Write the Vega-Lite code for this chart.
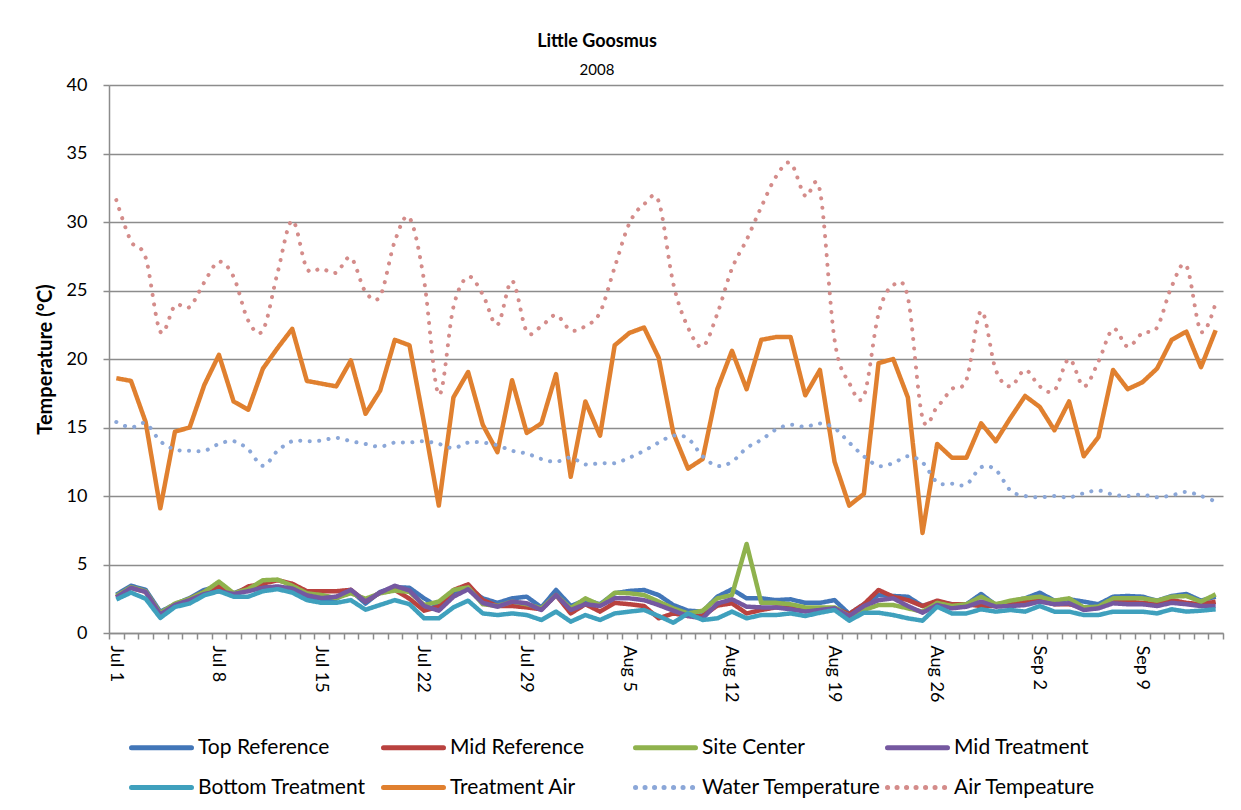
{
  "$schema": "https://vega.github.io/schema/vega-lite/v6.json",
  "width": 1114,
  "height": 548,
  "autosize": {"type": "none"},
  "padding": {"left": 109, "top": 85, "right": 18, "bottom": 177},
  "background": "white",
  "title": {
    "text": "Little Goosmus",
    "subtitle": "2008",
    "anchor": "middle",
    "dx": -69,
    "offset": -2,
    "font": "Lato",
    "fontSize": 18,
    "fontWeight": "bold",
    "color": "#000000",
    "subtitleFont": "Lato",
    "subtitleFontSize": 15,
    "subtitleColor": "#000000",
    "subtitlePadding": 12
  },
  "data": {
    "values": [
      {"date": "2008-07-01", "Top Reference": 2.8, "Mid Reference": 2.6, "Site Center": 2.7, "Mid Treatment": 2.6, "Bottom Treatment": 2.45, "Treatment Air": 18.6, "Water Temperature": 15.4, "Air Tempeature": 31.6},
      {"date": "2008-07-02", "Top Reference": 3.45, "Mid Reference": 3.3, "Site Center": 3.35, "Mid Treatment": 3.3, "Bottom Treatment": 2.95, "Treatment Air": 18.4, "Water Temperature": 15.0, "Air Tempeature": 28.6},
      {"date": "2008-07-03", "Top Reference": 3.15, "Mid Reference": 3.0, "Site Center": 3.05, "Mid Treatment": 3.0, "Bottom Treatment": 2.5, "Treatment Air": 15.4, "Water Temperature": 15.3, "Air Tempeature": 27.4},
      {"date": "2008-07-04", "Top Reference": 1.55, "Mid Reference": 1.4, "Site Center": 1.45, "Mid Treatment": 1.35, "Bottom Treatment": 1.1, "Treatment Air": 9.1, "Water Temperature": 14.0, "Air Tempeature": 22.0},
      {"date": "2008-07-05", "Top Reference": 2.1, "Mid Reference": 2.0, "Site Center": 2.15, "Mid Treatment": 2.05, "Bottom Treatment": 1.9, "Treatment Air": 14.7, "Water Temperature": 13.4, "Air Tempeature": 23.9},
      {"date": "2008-07-06", "Top Reference": 2.55, "Mid Reference": 2.5, "Site Center": 2.5, "Mid Treatment": 2.4, "Bottom Treatment": 2.15, "Treatment Air": 15.0, "Water Temperature": 13.3, "Air Tempeature": 23.8},
      {"date": "2008-07-07", "Top Reference": 3.15, "Mid Reference": 3.0, "Site Center": 3.0, "Mid Treatment": 2.85, "Bottom Treatment": 2.75, "Treatment Air": 18.1, "Water Temperature": 13.3, "Air Tempeature": 25.6},
      {"date": "2008-07-08", "Top Reference": 3.4, "Mid Reference": 3.4, "Site Center": 3.75, "Mid Treatment": 3.05, "Bottom Treatment": 3.05, "Treatment Air": 20.3, "Water Temperature": 13.8, "Air Tempeature": 27.1},
      {"date": "2008-07-09", "Top Reference": 2.9, "Mid Reference": 2.8, "Site Center": 2.9, "Mid Treatment": 2.85, "Bottom Treatment": 2.65, "Treatment Air": 16.9, "Water Temperature": 14.0, "Air Tempeature": 26.0},
      {"date": "2008-07-10", "Top Reference": 3.3, "Mid Reference": 3.4, "Site Center": 3.2, "Mid Treatment": 3.05, "Bottom Treatment": 2.65, "Treatment Air": 16.3, "Water Temperature": 13.4, "Air Tempeature": 22.8},
      {"date": "2008-07-11", "Top Reference": 3.35, "Mid Reference": 3.6, "Site Center": 3.85, "Mid Treatment": 3.3, "Bottom Treatment": 3.05, "Treatment Air": 19.3, "Water Temperature": 12.2, "Air Tempeature": 22.1},
      {"date": "2008-07-12", "Top Reference": 3.3, "Mid Reference": 3.85, "Site Center": 3.9, "Mid Treatment": 3.4, "Bottom Treatment": 3.2, "Treatment Air": 20.8, "Water Temperature": 13.3, "Air Tempeature": 26.3},
      {"date": "2008-07-13", "Top Reference": 3.1, "Mid Reference": 3.6, "Site Center": 3.45, "Mid Treatment": 3.25, "Bottom Treatment": 2.95, "Treatment Air": 22.2, "Water Temperature": 14.0, "Air Tempeature": 30.1},
      {"date": "2008-07-14", "Top Reference": 2.6, "Mid Reference": 3.05, "Site Center": 2.9, "Mid Treatment": 2.75, "Bottom Treatment": 2.4, "Treatment Air": 18.4, "Water Temperature": 14.0, "Air Tempeature": 26.6},
      {"date": "2008-07-15", "Top Reference": 2.5, "Mid Reference": 3.05, "Site Center": 2.77, "Mid Treatment": 2.55, "Bottom Treatment": 2.2, "Treatment Air": 18.2, "Water Temperature": 14.05, "Air Tempeature": 26.6},
      {"date": "2008-07-16", "Top Reference": 2.5, "Mid Reference": 3.05, "Site Center": 2.55, "Mid Treatment": 2.65, "Bottom Treatment": 2.2, "Treatment Air": 18.0, "Water Temperature": 14.25, "Air Tempeature": 26.3},
      {"date": "2008-07-17", "Top Reference": 3.1, "Mid Reference": 3.15, "Site Center": 2.9, "Mid Treatment": 3.15, "Bottom Treatment": 2.4, "Treatment Air": 19.9, "Water Temperature": 14.0, "Air Tempeature": 27.4},
      {"date": "2008-07-18", "Top Reference": 2.15, "Mid Reference": 2.3, "Site Center": 2.5, "Mid Treatment": 2.3, "Bottom Treatment": 1.7, "Treatment Air": 16.0, "Water Temperature": 13.8, "Air Tempeature": 24.9},
      {"date": "2008-07-19", "Top Reference": 3.0, "Mid Reference": 2.95, "Site Center": 2.9, "Mid Treatment": 2.95, "Bottom Treatment": 2.05, "Treatment Air": 17.7, "Water Temperature": 13.6, "Air Tempeature": 24.6},
      {"date": "2008-07-20", "Top Reference": 3.35, "Mid Reference": 3.15, "Site Center": 3.1, "Mid Treatment": 3.45, "Bottom Treatment": 2.4, "Treatment Air": 21.4, "Water Temperature": 13.9, "Air Tempeature": 28.6},
      {"date": "2008-07-21", "Top Reference": 3.3, "Mid Reference": 2.5, "Site Center": 3.0, "Mid Treatment": 3.1, "Bottom Treatment": 2.1, "Treatment Air": 21.0, "Water Temperature": 13.9, "Air Tempeature": 30.3},
      {"date": "2008-07-22", "Top Reference": 2.53, "Mid Reference": 1.63, "Site Center": 2.04, "Mid Treatment": 1.97, "Bottom Treatment": 1.07, "Treatment Air": 15.3, "Water Temperature": 14.0, "Air Tempeature": 25.7},
      {"date": "2008-07-23", "Top Reference": 1.87, "Mid Reference": 1.92, "Site Center": 2.29, "Mid Treatment": 1.63, "Bottom Treatment": 1.07, "Treatment Air": 9.3, "Water Temperature": 13.8, "Air Tempeature": 17.4},
      {"date": "2008-07-24", "Top Reference": 3.0, "Mid Reference": 3.14, "Site Center": 3.14, "Mid Treatment": 2.65, "Bottom Treatment": 1.87, "Treatment Air": 17.2, "Water Temperature": 13.5, "Air Tempeature": 23.8},
      {"date": "2008-07-25", "Top Reference": 3.26, "Mid Reference": 3.55, "Site Center": 3.33, "Mid Treatment": 3.19, "Bottom Treatment": 2.36, "Treatment Air": 19.05, "Water Temperature": 13.9, "Air Tempeature": 26.0},
      {"date": "2008-07-26", "Top Reference": 2.53, "Mid Reference": 2.4, "Site Center": 2.1, "Mid Treatment": 2.2, "Bottom Treatment": 1.43, "Treatment Air": 15.2, "Water Temperature": 13.9, "Air Tempeature": 24.7},
      {"date": "2008-07-27", "Top Reference": 2.2, "Mid Reference": 1.97, "Site Center": 1.97, "Mid Treatment": 1.92, "Bottom Treatment": 1.31, "Treatment Air": 13.2, "Water Temperature": 13.7, "Air Tempeature": 22.5},
      {"date": "2008-07-28", "Top Reference": 2.53, "Mid Reference": 1.97, "Site Center": 2.29, "Mid Treatment": 2.29, "Bottom Treatment": 1.43, "Treatment Air": 18.45, "Water Temperature": 13.3, "Air Tempeature": 25.7},
      {"date": "2008-07-29", "Top Reference": 2.65, "Mid Reference": 1.87, "Site Center": 2.1, "Mid Treatment": 2.17, "Bottom Treatment": 1.31, "Treatment Air": 14.6, "Water Temperature": 13.1, "Air Tempeature": 22.0},
      {"date": "2008-07-30", "Top Reference": 1.87, "Mid Reference": 1.73, "Site Center": 1.8, "Mid Treatment": 1.68, "Bottom Treatment": 0.95, "Treatment Air": 15.3, "Water Temperature": 12.7, "Air Tempeature": 22.4},
      {"date": "2008-07-31", "Top Reference": 3.14, "Mid Reference": 2.77, "Site Center": 2.77, "Mid Treatment": 2.77, "Bottom Treatment": 1.56, "Treatment Air": 18.9, "Water Temperature": 12.5, "Air Tempeature": 23.2},
      {"date": "2008-08-01", "Top Reference": 1.97, "Mid Reference": 1.43, "Site Center": 1.8, "Mid Treatment": 1.68, "Bottom Treatment": 0.83, "Treatment Air": 11.4, "Water Temperature": 12.8, "Air Tempeature": 22.1},
      {"date": "2008-08-02", "Top Reference": 2.4, "Mid Reference": 2.1, "Site Center": 2.53, "Mid Treatment": 2.1, "Bottom Treatment": 1.31, "Treatment Air": 16.9, "Water Temperature": 12.3, "Air Tempeature": 22.4},
      {"date": "2008-08-03", "Top Reference": 2.1, "Mid Reference": 1.56, "Site Center": 2.04, "Mid Treatment": 1.97, "Bottom Treatment": 0.95, "Treatment Air": 14.4, "Water Temperature": 12.4, "Air Tempeature": 23.4},
      {"date": "2008-08-04", "Top Reference": 2.9, "Mid Reference": 2.2, "Site Center": 2.94, "Mid Treatment": 2.53, "Bottom Treatment": 1.43, "Treatment Air": 21.0, "Water Temperature": 12.4, "Air Tempeature": 26.7},
      {"date": "2008-08-05", "Top Reference": 3.07, "Mid Reference": 2.1, "Site Center": 2.9, "Mid Treatment": 2.53, "Bottom Treatment": 1.56, "Treatment Air": 21.9, "Water Temperature": 12.8, "Air Tempeature": 29.9},
      {"date": "2008-08-06", "Top Reference": 3.14, "Mid Reference": 1.97, "Site Center": 2.77, "Mid Treatment": 2.4, "Bottom Treatment": 1.68, "Treatment Air": 22.3, "Water Temperature": 13.3, "Air Tempeature": 31.3},
      {"date": "2008-08-07", "Top Reference": 2.77, "Mid Reference": 1.07, "Site Center": 2.29, "Mid Treatment": 2.04, "Bottom Treatment": 1.24, "Treatment Air": 20.1, "Water Temperature": 13.9, "Air Tempeature": 31.5},
      {"date": "2008-08-08", "Top Reference": 2.04, "Mid Reference": 1.43, "Site Center": 1.8, "Mid Treatment": 1.63, "Bottom Treatment": 0.75, "Treatment Air": 14.6, "Water Temperature": 14.4, "Air Tempeature": 25.5},
      {"date": "2008-08-09", "Top Reference": 1.63, "Mid Reference": 1.24, "Site Center": 1.43, "Mid Treatment": 1.24, "Bottom Treatment": 1.43, "Treatment Air": 12.0, "Water Temperature": 14.2, "Air Tempeature": 22.3},
      {"date": "2008-08-10", "Top Reference": 1.56, "Mid Reference": 1.24, "Site Center": 1.63, "Mid Treatment": 1.07, "Bottom Treatment": 0.95, "Treatment Air": 12.7, "Water Temperature": 12.9, "Air Tempeature": 20.9},
      {"date": "2008-08-11", "Top Reference": 2.65, "Mid Reference": 2.0, "Site Center": 2.53, "Mid Treatment": 2.15, "Bottom Treatment": 1.07, "Treatment Air": 17.8, "Water Temperature": 12.2, "Air Tempeature": 23.3},
      {"date": "2008-08-12", "Top Reference": 3.19, "Mid Reference": 2.17, "Site Center": 2.77, "Mid Treatment": 2.46, "Bottom Treatment": 1.56, "Treatment Air": 20.6, "Water Temperature": 12.5, "Air Tempeature": 26.6},
      {"date": "2008-08-13", "Top Reference": 2.53, "Mid Reference": 1.43, "Site Center": 6.5, "Mid Treatment": 1.92, "Bottom Treatment": 1.07, "Treatment Air": 17.8, "Water Temperature": 13.5, "Air Tempeature": 28.7},
      {"date": "2008-08-14", "Top Reference": 2.53, "Mid Reference": 1.68, "Site Center": 2.2, "Mid Treatment": 1.87, "Bottom Treatment": 1.31, "Treatment Air": 21.4, "Water Temperature": 14.1, "Air Tempeature": 31.1},
      {"date": "2008-08-15", "Top Reference": 2.4, "Mid Reference": 1.87, "Site Center": 2.2, "Mid Treatment": 1.87, "Bottom Treatment": 1.31, "Treatment Air": 21.6, "Water Temperature": 14.85, "Air Tempeature": 33.3},
      {"date": "2008-08-16", "Top Reference": 2.46, "Mid Reference": 1.87, "Site Center": 2.1, "Mid Treatment": 1.73, "Bottom Treatment": 1.43, "Treatment Air": 21.6, "Water Temperature": 15.2, "Air Tempeature": 34.3},
      {"date": "2008-08-17", "Top Reference": 2.2, "Mid Reference": 1.73, "Site Center": 1.87, "Mid Treatment": 1.56, "Bottom Treatment": 1.24, "Treatment Air": 17.35, "Water Temperature": 15.05, "Air Tempeature": 31.9},
      {"date": "2008-08-18", "Top Reference": 2.2, "Mid Reference": 1.8, "Site Center": 1.87, "Mid Treatment": 1.68, "Bottom Treatment": 1.48, "Treatment Air": 19.2, "Water Temperature": 15.3, "Air Tempeature": 32.3},
      {"date": "2008-08-19", "Top Reference": 2.4, "Mid Reference": 1.8, "Site Center": 1.87, "Mid Treatment": 1.8, "Bottom Treatment": 1.68, "Treatment Air": 12.5, "Water Temperature": 14.95, "Air Tempeature": 21.4},
      {"date": "2008-08-20", "Top Reference": 1.39, "Mid Reference": 1.39, "Site Center": 1.24, "Mid Treatment": 1.24, "Bottom Treatment": 0.9, "Treatment Air": 9.3, "Water Temperature": 13.9, "Air Tempeature": 18.25},
      {"date": "2008-08-21", "Top Reference": 2.1, "Mid Reference": 2.1, "Site Center": 1.68, "Mid Treatment": 1.97, "Bottom Treatment": 1.48, "Treatment Air": 10.15, "Water Temperature": 12.9, "Air Tempeature": 17.3},
      {"date": "2008-08-22", "Top Reference": 2.77, "Mid Reference": 3.14, "Site Center": 2.04, "Mid Treatment": 2.4, "Bottom Treatment": 1.48, "Treatment Air": 19.7, "Water Temperature": 12.2, "Air Tempeature": 23.3},
      {"date": "2008-08-23", "Top Reference": 2.7, "Mid Reference": 2.65, "Site Center": 2.04, "Mid Treatment": 2.53, "Bottom Treatment": 1.31, "Treatment Air": 20.0, "Water Temperature": 12.4, "Air Tempeature": 25.4},
      {"date": "2008-08-24", "Top Reference": 2.65, "Mid Reference": 2.4, "Site Center": 1.8, "Mid Treatment": 1.97, "Bottom Treatment": 1.07, "Treatment Air": 17.2, "Water Temperature": 12.9, "Air Tempeature": 24.5},
      {"date": "2008-08-25", "Top Reference": 1.97, "Mid Reference": 1.97, "Site Center": 1.56, "Mid Treatment": 1.48, "Bottom Treatment": 0.9, "Treatment Air": 7.3, "Water Temperature": 12.45, "Air Tempeature": 15.7},
      {"date": "2008-08-26", "Top Reference": 2.29, "Mid Reference": 2.36, "Site Center": 2.2, "Mid Treatment": 2.04, "Bottom Treatment": 1.92, "Treatment Air": 13.8, "Water Temperature": 11.0, "Air Tempeature": 16.5},
      {"date": "2008-08-27", "Top Reference": 2.1, "Mid Reference": 2.1, "Site Center": 1.97, "Mid Treatment": 1.8, "Bottom Treatment": 1.43, "Treatment Air": 12.8, "Water Temperature": 10.9, "Air Tempeature": 17.8},
      {"date": "2008-08-28", "Top Reference": 2.1, "Mid Reference": 2.1, "Site Center": 2.1, "Mid Treatment": 1.92, "Bottom Treatment": 1.43, "Treatment Air": 12.8, "Water Temperature": 10.85, "Air Tempeature": 18.5},
      {"date": "2008-08-29", "Top Reference": 2.85, "Mid Reference": 1.97, "Site Center": 2.65, "Mid Treatment": 2.29, "Bottom Treatment": 1.73, "Treatment Air": 15.3, "Water Temperature": 12.1, "Air Tempeature": 23.5},
      {"date": "2008-08-30", "Top Reference": 2.04, "Mid Reference": 1.97, "Site Center": 2.1, "Mid Treatment": 1.92, "Bottom Treatment": 1.56, "Treatment Air": 14.0, "Water Temperature": 11.9, "Air Tempeature": 19.2},
      {"date": "2008-08-31", "Top Reference": 2.29, "Mid Reference": 2.1, "Site Center": 2.36, "Mid Treatment": 1.97, "Bottom Treatment": 1.68, "Treatment Air": 15.7, "Water Temperature": 10.4, "Air Tempeature": 18.0},
      {"date": "2008-09-01", "Top Reference": 2.53, "Mid Reference": 2.29, "Site Center": 2.53, "Mid Treatment": 2.04, "Bottom Treatment": 1.56, "Treatment Air": 17.3, "Water Temperature": 10.0, "Air Tempeature": 19.2},
      {"date": "2008-09-02", "Top Reference": 2.94, "Mid Reference": 2.4, "Site Center": 2.65, "Mid Treatment": 2.29, "Bottom Treatment": 1.97, "Treatment Air": 16.5, "Water Temperature": 9.9, "Air Tempeature": 18.0},
      {"date": "2008-09-03", "Top Reference": 2.36, "Mid Reference": 2.1, "Site Center": 2.36, "Mid Treatment": 2.1, "Bottom Treatment": 1.56, "Treatment Air": 14.8, "Water Temperature": 10.0, "Air Tempeature": 17.7},
      {"date": "2008-09-04", "Top Reference": 2.46, "Mid Reference": 2.1, "Site Center": 2.53, "Mid Treatment": 2.17, "Bottom Treatment": 1.56, "Treatment Air": 16.9, "Water Temperature": 9.9, "Air Tempeature": 20.0},
      {"date": "2008-09-05", "Top Reference": 2.29, "Mid Reference": 1.87, "Site Center": 1.87, "Mid Treatment": 1.68, "Bottom Treatment": 1.31, "Treatment Air": 12.9, "Water Temperature": 10.2, "Air Tempeature": 18.0},
      {"date": "2008-09-06", "Top Reference": 2.1, "Mid Reference": 1.87, "Site Center": 1.92, "Mid Treatment": 1.8, "Bottom Treatment": 1.31, "Treatment Air": 14.3, "Water Temperature": 10.4, "Air Tempeature": 19.8},
      {"date": "2008-09-07", "Top Reference": 2.65, "Mid Reference": 2.29, "Site Center": 2.53, "Mid Treatment": 2.17, "Bottom Treatment": 1.56, "Treatment Air": 19.2, "Water Temperature": 10.1, "Air Tempeature": 22.2},
      {"date": "2008-09-08", "Top Reference": 2.7, "Mid Reference": 2.29, "Site Center": 2.53, "Mid Treatment": 2.1, "Bottom Treatment": 1.56, "Treatment Air": 17.8, "Water Temperature": 10.0, "Air Tempeature": 20.9},
      {"date": "2008-09-09", "Top Reference": 2.65, "Mid Reference": 2.2, "Site Center": 2.53, "Mid Treatment": 2.1, "Bottom Treatment": 1.56, "Treatment Air": 18.3, "Water Temperature": 10.1, "Air Tempeature": 21.9},
      {"date": "2008-09-10", "Top Reference": 2.36, "Mid Reference": 2.1, "Site Center": 2.36, "Mid Treatment": 1.97, "Bottom Treatment": 1.43, "Treatment Air": 19.3, "Water Temperature": 9.9, "Air Tempeature": 22.3},
      {"date": "2008-09-11", "Top Reference": 2.7, "Mid Reference": 2.4, "Site Center": 2.65, "Mid Treatment": 2.2, "Bottom Treatment": 1.73, "Treatment Air": 21.4, "Water Temperature": 10.05, "Air Tempeature": 25.3},
      {"date": "2008-09-12", "Top Reference": 2.85, "Mid Reference": 2.2, "Site Center": 2.7, "Mid Treatment": 2.1, "Bottom Treatment": 1.56, "Treatment Air": 22.0, "Water Temperature": 10.3, "Air Tempeature": 26.8},
      {"date": "2008-09-13", "Top Reference": 2.36, "Mid Reference": 2.1, "Site Center": 2.29, "Mid Treatment": 1.97, "Bottom Treatment": 1.63, "Treatment Air": 19.4, "Water Temperature": 10.0, "Air Tempeature": 22.0},
      {"date": "2008-09-14", "Top Reference": 2.65, "Mid Reference": 2.29, "Site Center": 2.82, "Mid Treatment": 1.97, "Bottom Treatment": 1.73, "Treatment Air": 22.1, "Water Temperature": 9.6, "Air Tempeature": 24.1}
    ]
  },
  "transform": [
    {"fold": ["Top Reference", "Mid Reference", "Site Center", "Mid Treatment", "Bottom Treatment", "Treatment Air", "Water Temperature", "Air Tempeature"], "as": ["series", "temp"]}
  ],
  "encoding": {
    "x": {
      "field": "date",
      "type": "temporal",
      "timeUnit": "utcyearmonthdate",
      "bandPosition": 0.5,
      "scale": {
        "type": "utc",
        "domain": [
          {"year": 2008, "month": 7, "date": 1, "utc": true},
          {"year": 2008, "month": 9, "date": 15, "utc": true}
        ]
      },
      "axis": {
        "title": null,
        "grid": false,
        "tickCount": {"interval": "day", "step": 1},
        "labelExpr": "round((datum.value - utc(2008, 6, 1)) / 86400000) % 7 == 0 ? utcFormat(datum.value, '%b %-d') : ''",
        "labelAngle": 90,
        "labelOffset": 6,
        "labelOverlap": false,
        "labelBound": false,
        "labelFlush": false,
        "labelPadding": 6,
        "tickSize": 6
      }
    },
    "y": {
      "field": "temp",
      "type": "quantitative",
      "scale": {"domain": [0, 40], "nice": false},
      "axis": {
        "title": "Temperature (°C)",
        "values": [0, 5, 10, 15, 20, 25, 30, 35, 40],
        "grid": true,
        "tickSize": 6,
        "labelPadding": 16,
        "titlePadding": 11,
        "titleFontSize": 20
      }
    },
    "color": {
      "field": "series",
      "type": "nominal",
      "scale": {
        "domain": ["Top Reference", "Mid Reference", "Site Center", "Mid Treatment", "Bottom Treatment", "Treatment Air", "Water Temperature", "Air Tempeature"],
        "range": ["#4276B8", "#B9423F", "#8FB24D", "#7558A0", "#3FA0BD", "#E0802F", "#8BA7D8", "#D48C8A"]
      },
      "legend": {"title": null, "orient": "none", "legendX": 40, "legendY": 650, "encode": {"symbols": {"update": {"strokeCap": {"value": "round"}}}}}
    },
    "strokeDash": {
      "field": "series",
      "type": "nominal",
      "scale": {
        "domain": ["Top Reference", "Mid Reference", "Site Center", "Mid Treatment", "Bottom Treatment", "Treatment Air", "Water Temperature", "Air Tempeature"],
        "range": [[1, 0], [1, 0], [1, 0], [1, 0], [1, 0], [1, 0], [0.1, 9.4], [0.1, 9.4]]
      },
      "legend": {"title": null, "orient": "none", "legendX": 40, "legendY": 650, "encode": {"symbols": {"update": {"strokeCap": {"value": "round"}}}}}
    }
  },
  "layer": [
    {
      "transform": [{"filter": {"field": "series", "oneOf": ["Top Reference", "Mid Reference", "Site Center", "Mid Treatment", "Bottom Treatment", "Treatment Air"]}}],
      "mark": {"type": "line", "strokeWidth": 4.5, "strokeJoin": "round"}
    },
    {
      "transform": [{"filter": {"field": "series", "oneOf": ["Water Temperature", "Air Tempeature"]}}],
      "mark": {"type": "line", "strokeWidth": 4, "strokeCap": "round", "interpolate": "cardinal"}
    }
  ],
  "config": {
    "view": {"stroke": null},
    "font": "Lato",
    "axis": {
      "labelFont": "Lato",
      "labelFontSize": 18,
      "labelColor": "#000000",
      "titleFont": "Lato",
      "titleFontSize": 18,
      "titleFontWeight": "bold",
      "titleColor": "#000000",
      "domainColor": "#8C8C8C",
      "domainWidth": 1.5,
      "tickColor": "#8C8C8C",
      "tickWidth": 1.5,
      "gridColor": "#8C8C8C",
      "gridWidth": 1.5
    },
    "legend": {
      "columns": 4,
      "direction": "horizontal",
      "symbolType": "M-3,0H3",
      "symbolSize": 400,
      "symbolStrokeWidth": 5,
      "labelFont": "Lato",
      "labelFontSize": 21,
      "labelColor": "#000000",
      "labelOffset": 24,
      "labelLimit": 300,
      "columnPadding": -4,
      "rowPadding": 17,
      "gridAlign": "all",
      "padding": 0
    }
  }
}
